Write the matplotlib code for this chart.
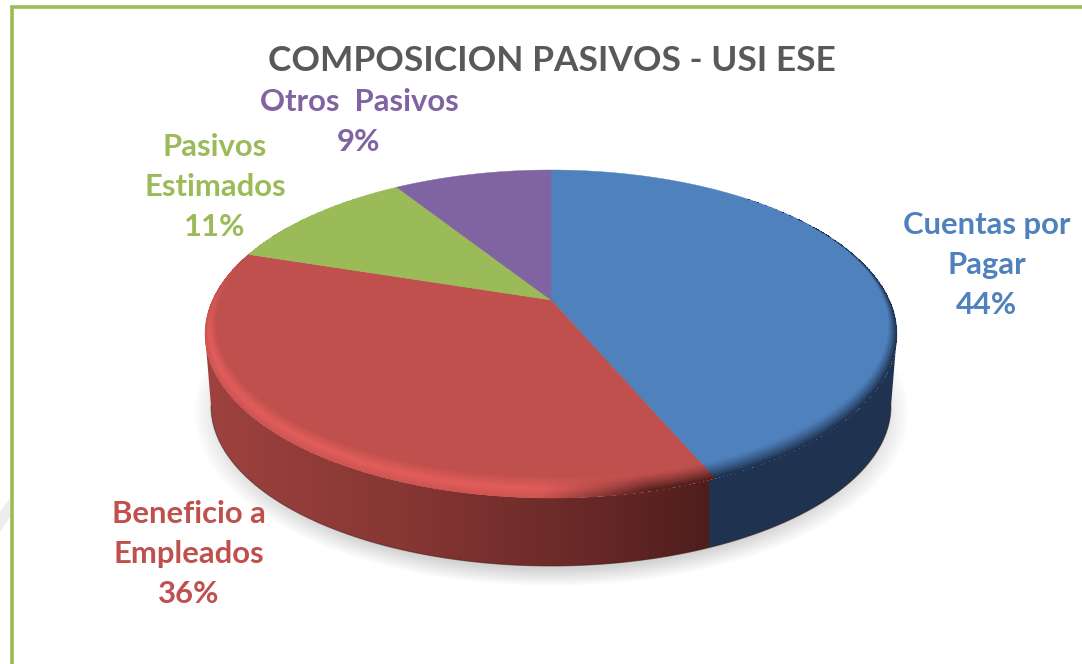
import matplotlib
matplotlib.use("Agg")
import matplotlib.pyplot as plt
from matplotlib.patches import Polygon
import numpy as np

title = "COMPOSICION PASIVOS - USI ESE"
categories = ["Cuentas por\nPagar", "Beneficio a\nEmpleados", "Pasivos\nEstimados", "Otros  Pasivos"]
values = [43.6, 36.4, 11, 9]
colors = ["#4F81BD", "#C0504D", "#9BBB59", "#8064A2"]
# centre of each label, picture pixels
label_x = [987, 189, 215, 359]
label_y = [265, 554, 187, 122]

# red side of the pie, left to right
side_stop_x = [205, 400, 580, 710]
side_stop_rgb = [(158, 66, 63), (135, 55, 52), (105, 41, 40), (78, 30, 28)]
blue_side = (31, 51, 80)

CX, APEX_Y = 551, 300
UP, DOWN, HALF = 130, 198, 346
K = (DOWN - UP) / (DOWN + UP)
B = UP * (1 + K)
A = HALF * np.sqrt(1 - K ** 2)
DEPTH_CY, DEPTH_RX, DEPTH_RY = 406, 340, 160


def outer_point(frac):
    # pie top as a circle seen in perspective, frac runs clockwise from 12 o'clock
    th = 2 * np.pi * np.asarray(frac)
    u, v = np.sin(th), np.cos(th)
    d = 1 + K * v
    return CX + A * u / d, APEX_Y - B * v / d


def inner_point(frac):
    # same ray from the apex, stopped at the inner edge of the bevel
    x, y = outer_point(frac)
    dx, dy = x - CX, y - APEX_Y
    ia, ib, ic = 335.0, 153.0, 23.0
    qa = (dx / ia) ** 2 + (dy / ib) ** 2
    qb = 2 * dy * (-ic) / ib ** 2
    qc = (ic / ib) ** 2 - 1
    t = (-qb + np.sqrt(qb ** 2 - 4 * qa * qc)) / (2 * qa)
    t = np.minimum(t, 1.0)
    return CX + dx * t, APEX_Y + dy * t


def rgb(hex_color):
    return np.array(matplotlib.colors.to_rgb(hex_color))


fig = plt.figure(figsize=(10.82, 6.64), dpi=100)
ax = fig.add_axes([0, 0, 1, 1])
ax.set_xlim(0, 1082)
ax.set_ylim(664, 0)
ax.axis("off")

# frame and the faint watermark left of it
ax.plot([11.5, 11.5, 1082], [664, 6.5, 6.5], color="#9BBB59", lw=2.6, solid_joinstyle="miter", zorder=5)
ax.add_patch(Polygon([[0, 512], [10, 498], [10, 517], [0, 532]], fc="#EDEDED", ec="none", zorder=1))

# soft shadow under the pie
yy, xx = np.mgrid[150:600, 180:940]
dist = np.sqrt(((xx - CX) / 358.0) ** 2 + ((yy - 412) / 174.0) ** 2)
shadow = np.zeros(dist.shape + (4,))
shadow[..., :3] = 0.55
shadow[..., 3] = np.clip((1 - dist) / 0.1, 0, 1) * 0.38
ax.imshow(shadow, extent=(180, 940, 600, 150), aspect="auto", zorder=2, interpolation="bilinear")
ax.set_xlim(0, 1082)
ax.set_ylim(664, 0)

# side wall, one colour per pixel column, clipped to the wall outline
f0 = np.arccos(-K) / (2 * np.pi)
fr = np.linspace(f0, 1 - f0, 300)
top_x, top_y = outer_point(fr)
ang = np.linspace(0, np.pi, 300)
bot_x = CX + DEPTH_RX * np.cos(ang)
bot_y = DEPTH_CY + DEPTH_RY * np.sin(ang)
wall = np.column_stack([np.r_[top_x[::-1], bot_x], np.r_[top_y[::-1], bot_y]])
wall_patch = Polygon(wall, closed=True, fc="none", ec="none", zorder=3)
ax.add_patch(wall_patch)

# wall seam sits a little left of the top edge point, the wall is narrower than the top
split_x = outer_point(values[0] / sum(values))[0] - 6
cols = np.arange(200, 905)
wall_img = np.zeros((1, len(cols), 3))
for i in range(3):
    wall_img[0, :, i] = np.interp(cols, side_stop_x, [c[i] for c in side_stop_rgb])
wall_img[0, cols >= split_x] = blue_side
wall_img = wall_img / 255.0
im = ax.imshow(wall_img, extent=(200, 905, 600, 300), aspect="auto", zorder=3, interpolation="nearest")
im.set_clip_path(wall_patch)
ax.plot(bot_x, bot_y, color="#3A1614", lw=0.8, alpha=0.5, zorder=3.2)
ax.set_xlim(0, 1082)
ax.set_ylim(664, 0)

# flat top, one wedge per value
edges = np.cumsum([0] + values) / sum(values)
for lo, hi, col in zip(edges[:-1], edges[1:], colors):
    f = np.linspace(lo, hi, 200)
    x, y = outer_point(f)
    ax.add_patch(Polygon(np.column_stack([np.r_[CX, x], np.r_[APEX_Y, y]]),
                         closed=True, fc=col, ec=col, lw=0.3, zorder=4))

# bevel ring between inner and outer edge
frac_grid = np.linspace(0, 1, 1201)
ring = np.linspace(0, 1, 25)
ix, iy = inner_point(frac_grid)
ox, oy = outer_point(frac_grid)
mesh_x = ix[None, :] + ring[:, None] * (ox - ix)[None, :]
mesh_y = iy[None, :] + ring[:, None] * (oy - iy)[None, :]

mid_f = 0.5 * (frac_grid[:-1] + frac_grid[1:])
mid_s = 0.5 * (ring[:-1] + ring[1:])
mid_x, mid_y = outer_point(mid_f)
cat = np.clip(np.searchsorted(edges, mid_f, side="right") - 1, 0, len(values) - 1)
base = np.array([rgb(colors[c]) for c in cat])
bright = np.array([224, 92, 90]) / 255.0
dark_red = np.array([85, 32, 30]) / 255.0
navy = np.array(blue_side) / 255.0

rim = np.zeros((len(ring) - 1, len(mid_f), 3))
for j, s in enumerate(mid_s):
    row = base.copy()
    fade_dark = np.clip((s - 0.15) / 0.8, 0, 1) ** 1.3
    # bright band peaks in the middle of the bevel
    fade_bright = np.clip(s / 0.55, 0, 1) * (1 - 0.6 * np.clip((s - 0.6) / 0.4, 0, 1))
    # blue goes to navy towards the wall
    mask = cat == 0
    row[mask] = base[mask] + (navy - base[mask]) * fade_dark
    # red is lit on the left and falls to dark on the right
    mask = cat == 1
    w = np.clip((650 - mid_x[mask]) / 110, 0, 1)[:, None]
    left_up = np.clip((mid_y[mask] - 265) / 70, 0, 1)[:, None]
    lit = base[mask] + (bright - base[mask]) * fade_bright * left_up
    shade = base[mask] + (dark_red - base[mask]) * fade_dark
    row[mask] = w * lit + (1 - w) * shade
    rim[j] = row
ax.pcolormesh(mesh_x, mesh_y, rim, zorder=4.5, shading="flat", antialiased=False, linewidth=0)
ax.set_xlim(0, 1082)
ax.set_ylim(664, 0)

# title and labels
ax.text(552, 61, title, ha="center", va="center", fontsize=25.4, fontweight="bold",
        family="Lato", color="#595959", zorder=6)
for name, val, col, lx, ly in zip(categories, values, colors, label_x, label_y):
    ax.text(lx, ly, f"{name}\n{round(val)}%", ha="center", va="center", fontsize=22.3, fontweight="bold",
            family="Lato", color=col, linespacing=1.52, zorder=6)

fig.savefig("out.png", dpi=100, facecolor="white")
